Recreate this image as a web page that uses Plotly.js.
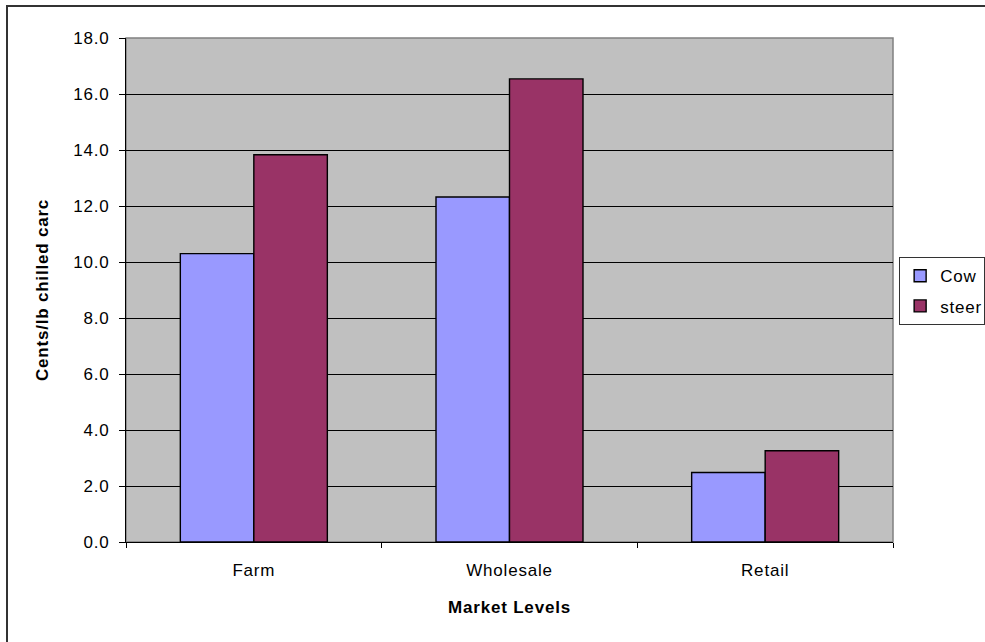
<!DOCTYPE html>
<html>
<head>
<meta charset="utf-8">
<script src="https://cdn.plot.ly/plotly-3.0.1.min.js"></script>
<style>
  html, body { margin: 0; padding: 0; background: #fff; overflow: hidden; }
  #frame { position: absolute; left: 6px; top: 5px; width: 1000px; height: 660px; border: 2px solid #333; box-sizing: border-box; pointer-events: none; z-index: 5; }
  #chart { position: absolute; left: 0; top: 0; width: 985px; height: 642px; }
  #chart text { letter-spacing: 0.8px; }
</style>
</head>
<body>
<div id="chart"></div>
<div id="frame"></div>
<script>
const categories = ["Farm", "Wholesale", "Retail"];
const cowValues = [10.3, 12.32, 2.48];
const steerValues = [13.83, 16.54, 3.26];
const seriesNames = ["Cow", "steer"];
const yTickVals = [0, 2, 4, 6, 8, 10, 12, 14, 16, 18];
const yTickText = yTickVals.map(v => v.toFixed(1));

const font = "Liberation Sans, Arial, sans-serif";
const fs = 17;

const traces = [
  { type: "bar", name: seriesNames[0], x: categories, y: cowValues, legendgroup: "a",
    marker: { color: "#9999FF", line: { color: "#000", width: 1.4 } } },
  { type: "bar", name: seriesNames[1], x: categories, y: steerValues, legendgroup: "b",
    marker: { color: "#993366", line: { color: "#000", width: 1.4 } } }
];

const layout = {
  width: 985, height: 642,
  margin: { l: 126, r: 92, t: 38, b: 100, autoexpand: false },
  paper_bgcolor: "#fff",
  plot_bgcolor: "#C0C0C0",
  barmode: "group",
  bargap: 0.425,
  bargroupgap: 0,
  font: { family: font, size: fs, color: "#000" },
  showlegend: true,
  legend: {
    x: 1.008, y: 0.565, xanchor: "left", yanchor: "top",
    xref: "paper", yref: "paper",
    bgcolor: "#fff", bordercolor: "#333", borderwidth: 1,
    font: { family: font, size: fs, color: "#000" },
    itemwidth: 30, traceorder: "grouped", tracegroupgap: 5
  },
  xaxis: {
    type: "category",
    title: { text: "<b>Market Levels</b>", font: { family: font, size: fs }, standoff: 21 },
    showline: true, linecolor: "#000", linewidth: 1,
    ticks: "outside", ticklen: 5, tickcolor: "#000", tickson: "boundaries",
    showgrid: false, zeroline: false,
    tickfont: { family: font, size: fs },
    ticklabelstandoff: 13,
    automargin: false
  },
  yaxis: {
    range: [0, 18],
    tickvals: yTickVals, ticktext: yTickText,
    title: { text: "<b>Cents/lb chilled carc</b>", font: { family: font, size: fs }, standoff: 23 },
    showline: true, linecolor: "#000", linewidth: 1,
    ticks: "outside", ticklen: 6, tickcolor: "#000",
    showgrid: true, gridcolor: "#000", gridwidth: 1,
    zeroline: false,
    tickfont: { family: font, size: fs },
    ticklabelstandoff: 6,
    automargin: false
  },
  shapes: [
    { type: "rect", xref: "paper", yref: "paper", x0: 0, x1: 1, y0: 0, y1: 1,
      line: { color: "#808080", width: 1.5 }, layer: "below" }
  ]
};

Plotly.newPlot("chart", traces, layout, { displayModeBar: false, staticPlot: true });
</script>
</body>
</html>
